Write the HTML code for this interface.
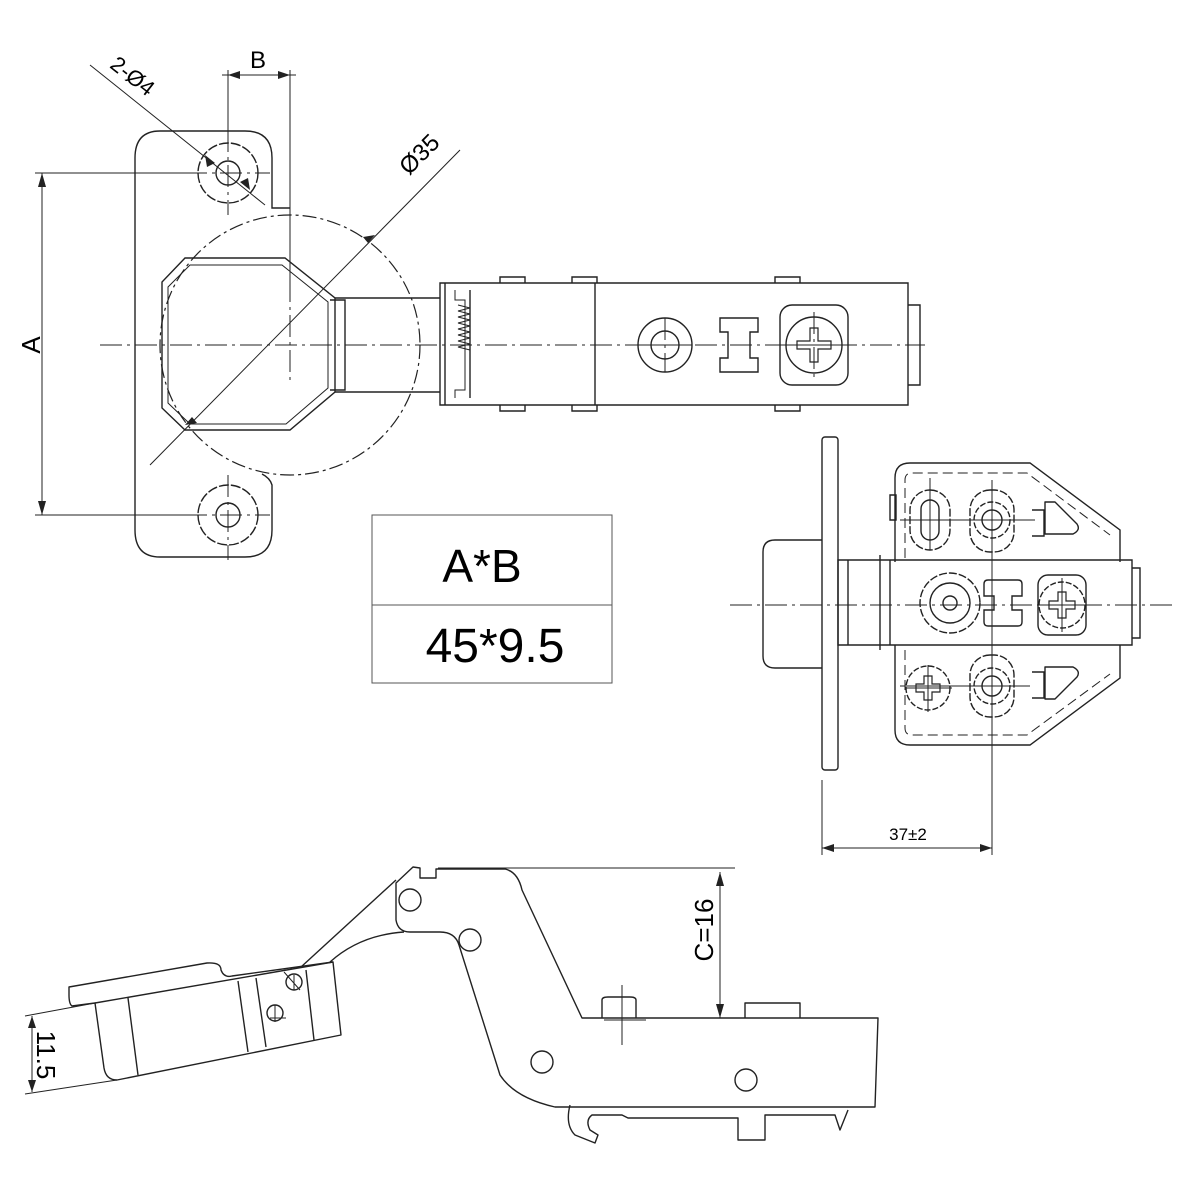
<!DOCTYPE html>
<html><head><meta charset="utf-8"><style>body{margin:0;background:#fff}svg{display:block}</style></head><body>
<svg width="1200" height="1200" viewBox="0 0 1200 1200" xmlns="http://www.w3.org/2000/svg" font-family="Liberation Sans, sans-serif">
<g fill="none" stroke="#222" stroke-width="1.4">
<!-- top-left plate -->
<path d="M290,208 H272 V158 Q272,131 245,131 H160 Q135,131 135,158 V530 Q135,557 160,557 H245 Q272,557 272,530 V485 Q270,478 262,474"/>
<circle cx="228" cy="173" r="30" stroke-dasharray="10,2"/><circle cx="228" cy="173" r="12"/>
<circle cx="228" cy="515" r="30" stroke-dasharray="10,2"/><circle cx="228" cy="515" r="12"/>
<circle cx="290" cy="345" r="130" stroke-dasharray="14,4,3,4" stroke-width="1.2"/>
<path d="M185,258 H285 L335,298 V392 L290,430 H185 L162,408 V282 Z"/>
<path d="M190,265 H282 L328,302 V388 L286,424 H190 L168,403 V287 Z" stroke-width="1"/>
<!-- arm -->
<path d="M335,298 H440 M335,392 H440 M440,283 H908 V405 H440 Z M595,283 V405 M445,283 V405 M470,290 V398"/>
<path d="M330,300 H345 V390 H330"/>
<path d="M500,283 v-6 h25 v6 M572,283 v-6 h25 v6 M775,283 v-6 h25 v6 M500,405 v6 h25 v-6 M572,405 v6 h25 v-6 M775,405 v6 h25 v-6"/>
<path d="M455,290 v10 h10 v90 h-10 v8" stroke-width="1"/>
<path d="M458,305 l12,3 -12,3 12,3 -12,3 12,3 -12,3 12,3 -12,3 12,3 -12,3 12,3 -12,3 12,3 -12,3 12,3" stroke-width="1"/>
<path d="M908,305 h12 v80 h-12"/>
<circle cx="665" cy="345" r="27"/><circle cx="665" cy="345" r="14"/>
<path d="M720,318 h38 v14 h-8 v26 h8 v14 h-38 v-14 h8 v-26 h-8 z"/>
<rect x="780" y="305" width="68" height="80" rx="12"/>
<circle cx="814" cy="345" r="28"/>
<path d="M810,328 h8 v13 h13 v8 h-13 v13 h-8 v-13 h-13 v-8 h13 z" stroke-width="1.2"/>
<g stroke-width="1" stroke-dasharray="22,5,3,5">
<path d="M100,345 H925 M290,70 V380 M185,173 H270 M228,130 V215 M185,515 H270 M228,475 V560 M640,345 H692 M665,318 V372 M784,345 H848 M814,312 V380"/>
</g>
<path d="M35,173 H190 M35,515 H190 M42,173 V515 M228,70 V130 M290,70 V300 M222,75 H296 M90,65 L265,205 M150,465 L460,150" stroke-width="1"/>
</g>
<g fill="#222">
<path d="M42,173 l-4,14 h8z M42,515 l-4,-14 h8z M228,75 l12,-4 v8z M290,75 l-12,-4 v8z M375,235 l-12,2 5,6z M185,425 l12,-2 -5,-6z M205,155 l10,8 -8,4z M250,190 l-10,-8 8,-4z"/>
</g>
<text x="40" y="345" font-size="26" transform="rotate(-90 40 345)" text-anchor="middle">A</text>
<text x="258" y="68" font-size="24" text-anchor="middle">B</text>
<text x="128" y="82" font-size="22" transform="rotate(38 128 82)" text-anchor="middle">2-Ø4</text>
<text x="425" y="160" font-size="24" transform="rotate(-45 425 160)" text-anchor="middle">Ø35</text>
<!-- table -->
<rect x="372" y="515" width="240" height="168" fill="none" stroke="#555" stroke-width="1"/>
<line x1="372" y1="605" x2="612" y2="605" stroke="#555"/>
<text x="482" y="582" font-size="46" text-anchor="middle">A*B</text>
<text x="495" y="662" font-size="48" text-anchor="middle">45*9.5</text>
<!-- right view -->
<g fill="none" stroke="#222" stroke-width="1.4">
<rect x="822" y="437" width="16" height="333" rx="3"/>
<path d="M822,540 H775 Q763,540 763,552 V656 Q763,668 775,668 H822"/>
<path d="M838,560 H1132 V645 H838 Z M848,560 V645 M880,555 V650 M890,560 V645"/>
<path d="M1132,568 h8 v70 h-8"/>
<path d="M895,562 V478 Q895,463 910,463 H1030 L1120,530 V562 M895,645 V730 Q895,745 910,745 H1030 L1120,678 V645"/>
<path d="M905,558 V480 Q905,473 912,473 H1027 L1110,535 M905,650 V728 Q905,735 912,735 H1027 L1110,674" stroke-width="1" stroke-dasharray="10,5"/>
<path d="M890,495 h6 v25 h-6 z"/>
<rect x="910" y="490" width="40" height="60" rx="20" stroke-dasharray="8,2"/>
<rect x="921" y="500" width="18" height="40" rx="9"/>
<rect x="970" y="490" width="44" height="62" rx="20" stroke-dasharray="8,2"/>
<circle cx="992" cy="520" r="18" stroke-dasharray="6,2"/><circle cx="992" cy="520" r="10"/>
<rect x="970" y="655" width="44" height="62" rx="20" stroke-dasharray="8,2"/>
<circle cx="992" cy="686" r="18" stroke-dasharray="6,2"/><circle cx="992" cy="686" r="10"/>
<path d="M1045,502 h10 l22,22 q4,6 -4,10 h-28 z M1045,667 h28 q8,4 4,10 l-22,22 h-10 z" stroke-linejoin="round"/>
<path d="M1032,510 h12 v26 h-12 M1032,672 h12 v26 h-12"/>
<circle cx="950" cy="603" r="30" stroke-dasharray="8,2"/><circle cx="950" cy="603" r="20"/><circle cx="950" cy="603" r="7"/>
<path d="M988,580 h30 q4,0 4,4 v12 h-10 v14 h10 v12 q0,4 -4,4 h-30 q-4,0 -4,-4 v-12 h10 v-14 h-10 v-12 q0,-4 4,-4 z"/>
<rect x="1038" y="575" width="48" height="60" rx="10"/>
<circle cx="1062" cy="605" r="23" stroke-dasharray="6,2"/>
<path d="M1058,592 h8 v9 h9 v8 h-9 v9 h-8 v-9 h-9 v-8 h9 z" stroke-width="1.2"/>
<circle cx="928" cy="688" r="22" stroke-dasharray="6,2"/>
<path d="M924,676 h8 v8 h8 v8 h-8 v8 h-8 v-8 h-8 v-8 h8 z" stroke-width="1.2"/>
</g>
<g fill="none" stroke="#222" stroke-width="1">
<path d="M730,605 H1175" stroke-dasharray="22,5,3,5"/>
<path d="M992,480 V855 M930,478 V550 M900,520 H1035 M900,686 H1030 M905,688 H952 M928,665 V712 M1062,578 V632 M1040,605 H1085 M822,780 V855 M822,848 H992"/>
</g>
<path d="M822,848 l12,-4 v8z M992,848 l-12,-4 v8z" fill="#222"/>
<text x="908" y="840" font-size="17" text-anchor="middle">37±2</text>
<!-- bottom side view -->
<g fill="none" stroke="#222" stroke-width="1.4" stroke-linejoin="round">
<path d="M396,883 L413,867 L420,868 V878 L436,878 V869 H505 Q518,872 522,890 L582,1018 H878 L875,1107 H555 Q515,1098 500,1075 L459,945 Q455,932 440,932 H410 Q398,932 396,920 Z"/>
<path d="M396,880 L301,967 M404,932 Q360,935 330,962"/>
<path d="M69,987 L207,963 Q221,962 221,970 Q224,978 232,976 L333,962 L341,1035 L117,1080 Q106,1080 104,1068 L95,1003 L72,1006 Q69,1004 69,995 Z"/>
<path d="M95,1003 L333,962 M128,998 L138,1075 M238,981 L248,1052 M256,978 L266,1047 M306,970 L314,1040"/>
<circle cx="410" cy="900" r="11"/><circle cx="470" cy="940" r="11"/><circle cx="542" cy="1062" r="11"/><circle cx="746" cy="1080" r="11"/>
<circle cx="294" cy="982" r="8"/><circle cx="275" cy="1013" r="8"/>
<path d="M570,1105 Q565,1125 575,1135 L595,1143 L598,1135 L590,1130 Q585,1120 592,1115 H622 L628,1118 H738 V1140 H765 V1115 H835 L840,1130 L848,1110"/>
<path d="M602,1018 V1000 Q602,997 608,997 H630 Q636,997 636,1000 V1018 M745,1018 V1003 H800 V1018"/>
</g>
<g fill="none" stroke="#222" stroke-width="1">
<path d="M438,868 H735 M720,872 V1018 M622,985 V1045 M604,1020 H646 M284,972 L300,990 M270,1018 H286 M275,1005 V1022 M294,975 V990 M25,1016 L95,1003 M25,1094 L117,1080 M32,1016 V1092"/>
</g>
<path d="M720,872 l-4,14 h8z M720,1018 l-4,-14 h8z M32,1016 l-4,12 h8z M32,1092 l-4,-12 h8z" fill="#222"/>
<text x="713" y="930" font-size="26" transform="rotate(-90 713 930)" text-anchor="middle">C=16</text>
<text x="37" y="1055" font-size="26" transform="rotate(90 37 1055)" text-anchor="middle">11.5</text>
</svg>
</body></html>
